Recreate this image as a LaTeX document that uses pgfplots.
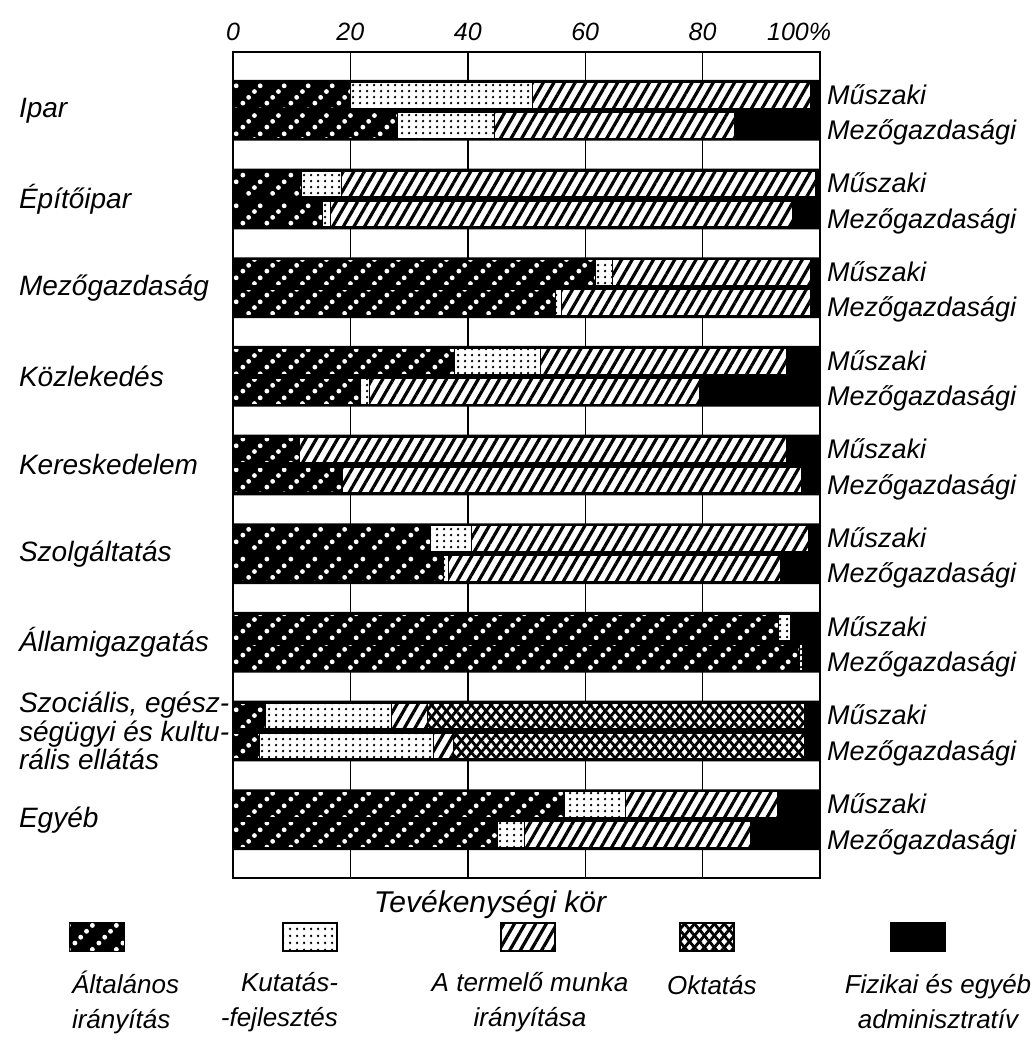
\documentclass[border=0pt]{standalone}
\usepackage{fontspec}
\setmainfont{Liberation Sans}
\usepackage{pgfplots}
\usepackage{pgfplotstable}
\pgfplotsset{compat=1.18}
\usetikzlibrary{patterns,patterns.meta}

% white dots in diagonal rows (Altalanos iranyitas)
\pgfdeclarepattern{
  name=dotdiag, type=uncolored,
  bottom left={\pgfpoint{0pt}{0pt}}, top right={\pgfpoint{12pt}{12pt}},
  tile size={\pgfpoint{12pt}{12pt}},
  code={
    \pgfpathcircle{\pgfpoint{1.5pt}{1.5pt}}{1.25pt}
    \pgfpathcircle{\pgfpoint{4.5pt}{4.5pt}}{1.25pt}
    \pgfpathcircle{\pgfpoint{7.5pt}{7.5pt}}{1.25pt}
    \pgfpathcircle{\pgfpoint{10.5pt}{10.5pt}}{1.25pt}
    \pgfusepath{fill}
  }
}
% black dot grid (Kutatas-fejlesztes)
\pgfdeclarepattern{
  name=dotgrid, type=uncolored,
  bottom left={\pgfpoint{0pt}{0pt}}, top right={\pgfpoint{3.5pt}{3.2pt}},
  tile size={\pgfpoint{3.5pt}{3.2pt}},
  code={
    \pgfpathcircle{\pgfpoint{1.75pt}{1.6pt}}{0.75pt}
    \pgfusepath{fill}
  }
}

\tikzset{
  sA/.style={fill=black, postaction={pattern=dotdiag, pattern color=white}},
  sK/.style={fill=white, postaction={pattern=dotgrid, pattern color=black}},
  sT/.style={fill=white, postaction={pattern={Lines[angle=60,distance=4.6pt,line width=1.6pt]}, pattern color=black}},
  sO/.style={fill=white,
    postaction={pattern={Lines[angle=50,distance=3.8pt,line width=1.4pt]}, pattern color=black},
    postaction={pattern={Lines[angle=-50,distance=3.8pt,line width=1.4pt]}, pattern color=black}},
  sF/.style={fill=black},
}

\newcommand\lf{\fontsize{14}{12.5}\selectfont\itshape}
\newcommand\rf{\fontsize{13.5}{14}\selectfont\itshape}

% y: bar position (Muszaki = k+0.17, Mezogazdasagi = k-0.17)
% A altalanos, K kutatas, T termelo, O oktatas, F fizikai
\pgfplotstableread{
y    A    K    T    O    F
9.17 20   31   47.3 0    1.7
8.83 28   16.5 41   0    14.5
8.17 11.6 6.8  80.9 0    0.7
7.83 15.3 1.3  78.7 0    4.7
7.17 61.7 3    33.6 0    1.7
6.83 54.9 1.1  42.3 0    1.7
6.17 37.7 14.6 42   0    5.7
5.83 21.8 1.5  56.2 0    20.5
5.17 11.4 0    82.9 0    5.7
4.83 18.6 0    78.2 0    3.2
4.17 33.6 7.1  57.3 0    2
3.83 35.8 0.9  56.6 0    6.7
3.17 93.0 2.0  0    0    5.0
2.83 96.5 0.6  0    0    2.9
2.17 5.5  21.5 6.1  64.2 2.7
1.83 4.5  29.6 3.4  59.8 2.7
1.17 56.4 10.5 25.9 0    7.2
0.83 45.1 4.5  38.6 0    11.8
}\data

\pgfplotsset{base/.style={scale only axis, width=293.5pt, height=413pt,
  xmin=0, xmax=100, ymin=0.3425, ymax=9.6575, at={(0,0)}, anchor=south west}}

\newcommand\sidelab[1]{%
  \node[anchor=west, font=\rf] at (axis cs:100,{#1+0.18}) {Műszaki};
  \node[anchor=west, font=\rf] at (axis cs:100,{#1-0.25}) {Mezőgazdasági};}
\newcommand\catlab[2]{%
  \node[anchor=west, font=\lf, align=left, xshift=-110.5pt] at (axis cs:0,#1) {#2};}

\begin{document}
\begin{tikzpicture}
\path[use as bounding box] (-116.5pt,-82pt) rectangle (400pt,439pt);

\begin{axis}[base, xbar, bar width=0.685, ytick=\empty,
  xtick={0,20,40,60,80,100},
  xticklabels={0,20,40,60,80,\makebox[0pt][r]{100}\%},
  xticklabel pos=upper, major tick length=0,
  xticklabel style={yshift=2pt},
  xmajorgrids, grid style={black, line width=0.7pt},
  axis line style={line width=1pt},
  tick label style={font=\fontsize{12.5}{14}\selectfont\itshape}]
\addplot[fill=black, draw=none] coordinates {(100,1) (100,2) (100,3) (100,4) (100,5) (100,6) (100,7) (100,8) (100,9)};
\end{axis}

\begin{axis}[base, hide axis, xbar stacked, bar width=0.29, clip=false]
\addplot[sA, draw=black, line width=0.5pt] table[x=A, y=y] {\data};
\addplot[sK, draw=black, line width=0.5pt] table[x=K, y=y] {\data};
\addplot[sT, draw=black, line width=0.5pt] table[x=T, y=y] {\data};
\addplot[sO, draw=black, line width=0.5pt] table[x=O, y=y] {\data};
\addplot[sF, draw=black, line width=0.5pt] table[x=F, y=y] {\data};

\sidelab{9}\sidelab{8}\sidelab{7}\sidelab{6}\sidelab{5}\sidelab{4}\sidelab{3}\sidelab{2}\sidelab{1}
\catlab{9}{Ipar}
\catlab{8}{Építőipar}
\catlab{7}{Mezőgazdaság}
\catlab{6}{Közlekedés}
\catlab{5}{Kereskedelem}
\catlab{4}{Szolgáltatás}
\catlab{3}{Államigazgatás}
\catlab{2}{Szociális, egész-\\ségügyi és kultu-\\rális ellátás}
\catlab{1}{Egyéb}
\end{axis}

% caption and legend
\node[font=\fontsize{15}{16}\selectfont\itshape] at (128.5pt,-13.5pt) {Tevékenységi kör};
\node[draw, line width=1pt, minimum width=27pt, minimum height=14pt, sA] at (-68pt,-29.5pt) {};
\node[draw, line width=1pt, minimum width=27pt, minimum height=14pt, sK] at (38.5pt,-29.5pt) {};
\node[draw, line width=1pt, minimum width=27pt, minimum height=14pt, sT] at (147.5pt,-29.5pt) {};
\node[draw, line width=1pt, minimum width=27pt, minimum height=14pt, sO] at (237pt,-29.5pt) {};
\node[draw, line width=1pt, minimum width=27pt, minimum height=14pt, sF] at (342.5pt,-29.5pt) {};
\tikzset{lg/.style={font=\fontsize{13}{17.5}\selectfont\itshape}}
\node[lg, anchor=west, align=left] at (-84pt,-62pt) {Általános\\irányítás};
\node[lg, anchor=east, align=right] at (56pt,-62pt) {Kutatás-\\-fejlesztés};
\node[lg, align=center] at (148.5pt,-62pt) {A termelő munka\\irányítása};
\node[lg, anchor=west, align=left] at (213.5pt,-53.5pt) {Oktatás};
\node[lg, align=center] at (352.5pt,-62pt) {Fizikai és egyéb\\adminisztratív};
\end{tikzpicture}
\end{document}
